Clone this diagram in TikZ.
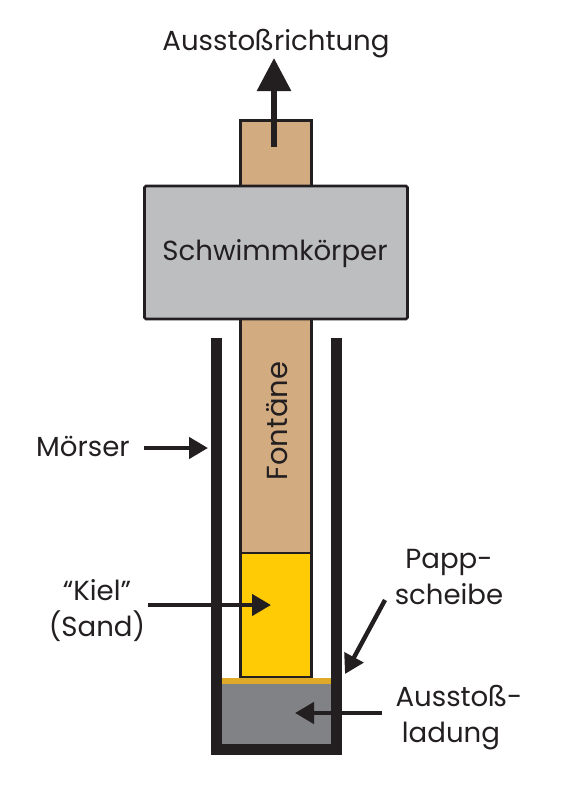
\documentclass[tikz,border=0pt]{standalone}
\usepackage{fontspec}
\setmainfont{Poppins}
\usetikzlibrary{arrows.meta}
\definecolor{tan}{HTML}{D2AC80}
\definecolor{floatgray}{HTML}{BCBEC0}
\definecolor{ink}{HTML}{231F20}
\definecolor{sand}{HTML}{FFCB05}
\definecolor{card}{HTML}{DFAA27}
\definecolor{charge}{HTML}{808285}
\tikzset{
  x=1pt,y=-1pt,
  label text/.style={font=\fontsize{27.6}{36}\selectfont,text=ink,inner sep=0pt,align=center},
  part/.style={draw=ink,line width=2.6pt,inner sep=0pt,outer sep=0pt,anchor=north west},
  fill part/.style={inner sep=0pt,outer sep=0pt,anchor=north west},
  wall/.style={fill=ink,inner sep=0pt,outer sep=0pt,anchor=north west},
  pointer/.style={draw=ink,line width=4.4pt,-{Triangle[length=19pt,width=21pt,fill=ink]}},
  big pointer/.style={draw=ink,line width=6pt,-{Triangle[length=33pt,width=33pt,fill=ink]}}
}
\begin{document}
\begin{tikzpicture}
\useasboundingbox (0,0) rectangle (566,800);
% fountain and float
\node[part,fill=tan,minimum width=71pt,minimum height=66pt] (top) at (240.5,120.5) {};
\node[part,fill=tan,minimum width=71pt,minimum height=234pt] (fountain) at (240.5,319) {};
\node[part,fill=sand,minimum width=71pt,minimum height=124pt] (keel) at (240.5,553) {};
\node[part,fill=floatgray,rounded corners=1.5pt,minimum width=263pt,minimum height=133pt] (float) at (144.5,186) {};
\node[label text] (floatlabel) at (275,254) {Schwimmkörper};
\node[label text,rotate=90] (fontaene) at (277,421) {\fontsize{29}{36}\selectfont Fontäne};
% mortar
\node[fill part,fill=charge,minimum width=110pt,minimum height=62pt] (chargebox) at (221,683) {};
\node[fill part,fill=card,minimum width=110pt,minimum height=5.5pt] (cardboard) at (221,678) {};
\node[wall,minimum width=11pt,minimum height=417pt] (leftwall) at (211,338) {};
\node[wall,minimum width=11pt,minimum height=417pt] (rightwall) at (330.5,338) {};
\node[wall,minimum width=130pt,minimum height=11pt] (bottomwall) at (211,744) {};
% labels
\node[label text] (ejectdir) at (276,44) {Ausstoßrichtung};
\node[label text] (moerser) at (83,446) {Mörser};
\node[label text] (kiel) at (97,611) {“Kiel”\\(Sand)};
\node[label text] (papp) at (449,577) {Papp-\\scheibe};
\node[label text,anchor=base] (ladungA) at (459,706) {Ausstoß-};
\node[label text,anchor=base] (ladungB) at (451,742) {ladung};
% arrows
\coordinate (a1s) at (274,147); \coordinate (a1e) at (274,58);
\coordinate (a2s) at (144,448); \coordinate (a2e) at (208,448);
\coordinate (a3s) at (148,605); \coordinate (a3e) at (271,605);
\coordinate (a4s) at (385,600); \coordinate (a4e) at (345,674);
\coordinate (a5s) at (382,713); \coordinate (a5e) at (295,713);
\draw[big pointer] (a1s) -- (a1e);
\draw[pointer] (a2s) -- (a2e);
\draw[pointer] (a3s) -- (a3e);
\draw[pointer] (a4s) -- (a4e);
\draw[pointer] (a5s) -- (a5e);
\end{tikzpicture}
\end{document}
